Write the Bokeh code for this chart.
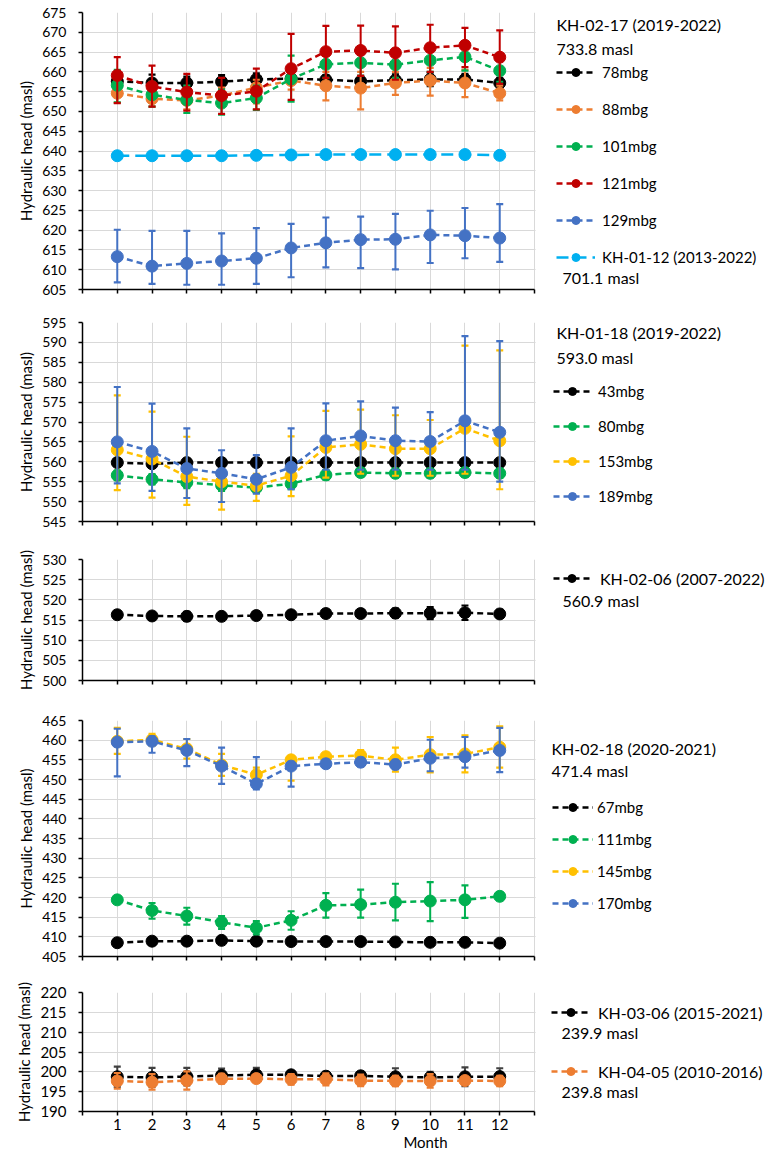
from bokeh.plotting import figure
from bokeh.layouts import column
from bokeh.models import (Range1d, FixedTicker, Legend, LegendItem, Label, ColumnDataSource,
                          BoxAnnotation)
from bokeh.embed import file_html
from bokeh.resources import INLINE

FONT = "Lato"

# ---------------- data ----------------
months = [1, 2, 3, 4, 5, 6, 7, 8, 9, 10, 11, 12]
x_ticks = [0, 1, 2, 3, 4, 5, 6, 7, 8, 9, 10, 11, 12, 13]
x_grid = [1, 2, 3, 4, 5, 6, 7, 8, 9, 10, 11, 12, 13]
month_tick_labels = {0: "", 1: "1", 2: "2", 3: "3", 4: "4", 5: "5", 6: "6",
                     7: "7", 8: "8", 9: "9", 10: "10", 11: "11", 12: "12", 13: ""}
y_axis_title = "Hydraulic head (masl)"
x_axis_title = "Month"

# Panel 1: KH-02-17 (2019-2022) and KH-01-12
p1_title = "KH-02-17 (2019-2022)"
p1_elev = "733.8 masl"
p1_elev2 = "701.1 masl"
p1_yticks = [605, 610, 615, 620, 625, 630, 635, 640, 645, 650, 655, 660, 665, 670, 675]
p1_names = ["78mbg", "88mbg", "101mbg", "121mbg", "129mbg", "KH-01-12 (2013-2022)"]
p1_78 = [657.6, 657.2, 657.2, 657.5, 658.1, 658.3, 658.0, 657.6, 657.9, 658.1, 658.1, 657.2]
p1_78_hi = [659.0, 659.3, 658.8, 659.2, 659.6, 659.5, 659.2, 659.0, 659.4, 659.8, 659.5, 658.5]
p1_78_lo = [656.2, 655.5, 655.6, 655.8, 656.6, 657.1, 656.8, 656.2, 656.4, 656.4, 656.7, 655.9]
p1_88 = [654.6, 653.2, 652.8, 654.0, 656.0, 657.8, 656.5, 655.9, 657.2, 657.8, 657.2, 654.6]
p1_88_hi = [657.0, 655.5, 655.0, 656.0, 658.0, 660.0, 660.0, 660.0, 660.0, 661.0, 660.5, 656.5]
p1_88_lo = [652.2, 651.2, 650.5, 652.0, 652.0, 655.5, 652.8, 650.5, 654.2, 654.0, 653.6, 652.8]
p1_101 = [656.6, 654.2, 652.9, 652.1, 653.4, 658.2, 661.9, 662.3, 661.8, 662.9, 663.8, 660.3]
p1_101_hi = [660.5, 657.5, 656.5, 655.5, 656.5, 664.1, 665.0, 665.5, 665.0, 666.0, 667.0, 663.5]
p1_101_lo = [652.3, 651.2, 649.6, 649.2, 650.4, 652.5, 658.5, 659.0, 658.5, 660.0, 660.3, 657.5]
p1_121 = [659.1, 656.3, 654.9, 654.0, 655.1, 660.8, 665.1, 665.4, 664.8, 666.1, 666.7, 663.7]
p1_121_hi = [663.7, 661.6, 659.5, 658.5, 660.8, 669.6, 671.6, 671.7, 671.5, 671.9, 671.1, 670.5]
p1_121_lo = [652.1, 651.2, 650.2, 649.4, 650.5, 652.9, 658.5, 659.0, 658.0, 660.0, 661.2, 657.0]
p1_129 = [613.3, 610.9, 611.6, 612.2, 612.9, 615.5, 616.8, 617.6, 617.7, 618.8, 618.6, 618.0]
p1_129_hi = [620.1, 619.8, 619.8, 619.2, 620.5, 621.6, 623.2, 623.4, 624.1, 624.9, 625.6, 626.6]
p1_129_lo = [606.8, 606.4, 606.2, 606.2, 606.4, 608.1, 610.6, 610.4, 610.1, 611.7, 612.9, 612.0]
p1_k0112 = [638.8, 638.8, 638.8, 638.8, 638.9, 639.0, 639.1, 639.1, 639.1, 639.1, 639.1, 638.9]

# Panel 2: KH-01-18 (2019-2022)
p2_title = "KH-01-18 (2019-2022)"
p2_elev = "593.0 masl"
p2_yticks = [545, 550, 555, 560, 565, 570, 575, 580, 585, 590, 595]
p2_names = ["43mbg", "80mbg", "153mbg", "189mbg"]
p2_43 = [559.8, 559.5, 559.8, 559.8, 559.8, 559.8, 559.8, 559.8, 559.8, 559.8, 559.8, 559.8]
p2_43_hi = [560.6, 560.4, 560.6, 560.5, 560.6, 560.6, 560.5, 560.5, 560.6, 560.5, 560.6, 560.5]
p2_43_lo = [559.0, 558.6, 559.0, 559.1, 559.0, 559.0, 559.1, 559.1, 559.0, 559.1, 559.0, 559.1]
p2_80 = [556.6, 555.6, 554.8, 554.1, 553.5, 554.5, 556.7, 557.3, 557.1, 557.1, 557.3, 557.1]
p2_80_hi = [557.8, 556.9, 556.2, 555.5, 554.8, 555.9, 557.9, 558.4, 558.2, 558.2, 558.4, 558.2]
p2_80_lo = [555.4, 554.3, 553.4, 552.7, 552.2, 553.1, 555.5, 556.2, 556.0, 556.0, 556.2, 556.0]
p2_153 = [563.0, 560.7, 556.3, 555.0, 554.0, 556.5, 563.6, 564.4, 563.3, 563.3, 568.4, 565.3]
p2_153_hi = [576.7, 572.6, 566.3, 558.0, 557.0, 566.4, 572.8, 573.1, 571.7, 570.5, 589.2, 588.0]
p2_153_lo = [552.9, 551.0, 549.2, 548.0, 550.2, 551.4, 556.0, 557.0, 556.5, 556.5, 557.0, 553.1]
p2_189 = [565.0, 562.6, 558.3, 557.1, 555.6, 558.6, 565.3, 566.5, 565.3, 565.1, 570.3, 567.4]
p2_189_hi = [578.8, 574.6, 568.4, 562.9, 561.7, 568.4, 574.7, 575.2, 573.6, 572.5, 591.6, 590.3]
p2_189_lo = [554.6, 552.7, 550.9, 549.9, 552.0, 553.1, 558.0, 558.0, 558.0, 558.0, 558.0, 555.0]

# Panel 3: KH-02-06 (2007-2022)
p3_name = "KH-02-06 (2007-2022)"
p3_elev = "560.9 masl"
p3_yticks = [500, 505, 510, 515, 520, 525, 530]
p3_k0206 = [516.3, 516.0, 515.9, 515.9, 516.1, 516.3, 516.6, 516.6, 516.7, 516.7, 516.8, 516.5]
p3_k0206_hi = [517.0, 516.8, 517.0, 516.7, 516.9, 517.0, 517.5, 517.5, 517.8, 518.2, 518.6, 517.5]
p3_k0206_lo = [515.6, 515.2, 514.8, 515.1, 515.3, 515.6, 515.7, 515.7, 515.6, 515.2, 515.0, 515.5]

# Panel 4: KH-02-18 (2020-2021)
p4_title = "KH-02-18 (2020-2021)"
p4_elev = "471.4 masl"
p4_yticks = [405, 410, 415, 420, 425, 430, 435, 440, 445, 450, 455, 460, 465]
p4_names = ["67mbg", "111mbg", "145mbg", "170mbg"]
p4_67 = [408.5, 408.9, 408.9, 409.1, 408.9, 408.8, 408.8, 408.8, 408.7, 408.6, 408.6, 408.4]
p4_67_hi = [409.0, 409.4, 409.4, 409.6, 409.4, 409.3, 409.3, 409.3, 409.2, 409.1, 409.1, 408.9]
p4_67_lo = [408.0, 408.4, 408.4, 408.6, 408.4, 408.3, 408.3, 408.3, 408.2, 408.1, 408.1, 407.9]
p4_111 = [419.4, 416.7, 415.3, 413.7, 412.3, 414.2, 418.0, 418.2, 418.8, 419.1, 419.4, 420.3]
p4_111_hi = [420.2, 418.6, 417.4, 415.3, 414.0, 416.5, 421.1, 422.0, 423.5, 423.9, 423.1, 421.3]
p4_111_lo = [418.6, 414.6, 413.1, 412.0, 410.6, 411.8, 414.9, 414.9, 414.2, 414.0, 414.8, 419.3]
p4_145 = [459.7, 460.1, 457.8, 453.7, 451.2, 455.0, 455.8, 456.1, 455.0, 456.3, 456.5, 458.2]
p4_145_hi = [463.1, 461.6, 460.3, 456.5, 453.0, 455.8, 456.8, 457.5, 458.1, 460.8, 461.2, 463.5]
p4_145_lo = [456.5, 458.6, 455.3, 450.9, 449.4, 449.7, 454.8, 454.7, 452.0, 451.8, 451.8, 453.0]
p4_170 = [459.5, 459.7, 457.4, 453.4, 448.9, 453.4, 454.0, 454.4, 453.8, 455.4, 455.8, 457.4]
p4_170_hi = [462.9, 461.0, 460.3, 458.1, 455.7, 454.5, 455.0, 455.5, 455.0, 460.1, 460.8, 463.1]
p4_170_lo = [450.8, 456.8, 453.4, 448.9, 447.5, 448.2, 453.0, 453.3, 452.6, 452.1, 453.0, 451.9]

# Panel 5: KH-03-06 and KH-04-05
p5_names = ["KH-03-06 (2015-2021)", "KH-04-05 (2010-2016)"]
p5_elevs = ["239.9 masl", "239.8 masl"]
p5_yticks = [190, 195, 200, 205, 210, 215, 220]
p5_k0306 = [198.75, 198.6, 198.8, 199.1, 199.25, 199.25, 198.9, 199.0, 198.75, 198.6, 198.75, 198.8]
p5_k0306_hi = [201.3, 201.0, 201.0, 200.8, 201.0, 200.2, 200.0, 200.0, 200.9, 200.0, 201.1, 200.9]
p5_k0306_lo = [196.2, 196.2, 196.6, 197.4, 197.5, 198.3, 197.8, 198.0, 196.6, 197.2, 196.4, 196.7]
p5_k0405 = [197.7, 197.4, 197.8, 198.25, 198.3, 198.1, 198.1, 197.8, 197.7, 197.7, 197.8, 197.7]
p5_k0405_hi = [199.7, 199.4, 200.1, 199.5, 199.1, 199.4, 199.6, 199.3, 199.0, 199.4, 198.6, 199.0]
p5_k0405_lo = [195.75, 195.5, 195.5, 197.0, 197.5, 196.8, 196.6, 196.4, 196.4, 196.0, 197.0, 196.4]

# ---------------- styles / layout ----------------
BLACK = "#000000"
ORANGE = "#ED7D31"
GREEN = "#00B050"
RED = "#C00000"
BLUE = "#4472C4"
SKY = "#00B0F0"
YELLOW = "#FFC000"
GRID = "#D9D9D9"
SHORT = "6 4"
LONG = "12 6"

FIG_W = 768
LEFT = 82          # width of the y-axis area
PLOT_W = 452       # width of the gridded plot area (months 0..13)
X_MAX = 13
X_END = X_MAX * (FIG_W - LEFT) / PLOT_W   # frame extends under the legend column


def make_panel(height, top, bottom, yr, yticks, series, leg_loc, leg_spacing, glyph_w,
               standoff, labels, last=False, leg_font="15px", tick_font="14px"):
    p = figure(width=FIG_W, height=height, x_range=Range1d(0, X_END), y_range=Range1d(*yr),
               output_backend="svg", toolbar_location=None,
               min_border_left=LEFT, min_border_right=0,
               min_border_top=top, min_border_bottom=bottom)
    p.outline_line_color = None
    p.background_fill_color = "white"
    p.border_fill_color = "white"

    xa = p.xaxis[0]
    xa.bounds = (0, X_MAX)
    xa.axis_line_color = BLACK
    xa.axis_line_width = 1.5
    xa.major_tick_in = 0
    xa.major_tick_out = 4
    xa.minor_tick_in = 0
    xa.major_tick_line_color = BLACK
    xa.major_tick_line_width = 1.5
    xa.minor_tick_line_color = BLACK
    xa.minor_tick_line_width = 1.5
    if last:
        xa.ticker = FixedTicker(ticks=x_ticks)
        xa.major_label_overrides = month_tick_labels
        xa.minor_tick_out = 0
        xa.major_label_text_font = FONT
        xa.major_label_text_font_size = "15px"
        xa.major_label_text_color = BLACK
        xa.major_label_standoff = 3
        xa.axis_label = x_axis_title
        xa.axis_label_standoff = 0
        xa.axis_label_text_font = FONT
        xa.axis_label_text_font_size = "15px"
        xa.axis_label_text_font_style = "normal"
        xa.axis_label_text_color = BLACK
    else:
        # tick marks only (no labels) on the upper panels
        xa.ticker = FixedTicker(ticks=[], minor_ticks=x_ticks)
        xa.minor_tick_out = 4
        xa.major_label_standoff = 0

    ya = p.yaxis[0]
    ya.ticker = FixedTicker(ticks=yticks)
    ya.major_tick_in = 0
    ya.major_tick_out = 4
    ya.minor_tick_out = 0
    ya.minor_tick_in = 0
    ya.axis_line_color = BLACK
    ya.axis_line_width = 1.5
    ya.major_tick_line_color = BLACK
    ya.major_tick_line_width = 1.5
    ya.major_label_text_font = FONT
    ya.major_label_text_font_size = tick_font
    ya.major_label_text_color = BLACK
    ya.major_label_standoff = 12
    ya.axis_label = y_axis_title
    ya.axis_label_standoff = 4
    ya.axis_label_text_font = FONT
    ya.axis_label_text_font_size = "15px"
    ya.axis_label_text_font_style = "normal"
    ya.axis_label_text_color = BLACK

    p.xgrid.ticker = FixedTicker(ticks=x_grid)
    p.ygrid.ticker = FixedTicker(ticks=yticks)
    p.xgrid.grid_line_color = GRID
    p.ygrid.grid_line_color = GRID
    p.xgrid.grid_line_width = 1
    p.ygrid.grid_line_width = 1

    # blank out grid lines in the legend column (right of the plot area)
    p.add_layout(BoxAnnotation(left=X_MAX + 0.03, fill_color="white", fill_alpha=1.0,
                               line_alpha=0, level="underlay"))

    items = []
    for s in series:
        c = s["color"]
        ec = s.get("err_color", c)
        src = ColumnDataSource(dict(x=months, y=s["y"]))
        if s.get("hi") is not None:
            esrc = ColumnDataSource(dict(x=months, hi=s["hi"], lo=s["lo"]))
            p.segment(x0="x", y0="lo", x1="x", y1="hi", source=esrc,
                      line_color=ec, line_width=2)
            p.scatter("x", "hi", source=esrc, marker="dash", size=7,
                      line_color=ec, line_width=2.2)
            p.scatter("x", "lo", source=esrc, marker="dash", size=7,
                      line_color=ec, line_width=2.2)
        rl = p.line("x", "y", source=src, line_color=c, line_width=2.5,
                    line_dash=s.get("dash", SHORT))
        rm = p.scatter("x", "y", source=src, size=12, fill_color=c, line_color=c)
        items.append(LegendItem(label=s["name"], renderers=[rl, rm]))

    leg = Legend(items=items, location=leg_loc, orientation="vertical",
                 padding=0, margin=0, spacing=leg_spacing,
                 glyph_width=glyph_w, glyph_height=20, label_height=20,
                 label_standoff=standoff, label_text_font=FONT,
                 label_text_font_size=leg_font, label_text_color=BLACK,
                 border_line_color=None, background_fill_alpha=0)
    p.add_layout(leg, "center")

    for (t, lx, ly, fs) in labels:
        p.add_layout(Label(x=lx, y=ly, x_units="screen", y_units="screen", text=t,
                           text_font=FONT, text_font_size=fs, text_color=BLACK,
                           text_baseline="middle", text_align="left"))
    return p


p1 = make_panel(
    301, 12, 12, (605, 675), p1_yticks,
    [dict(name=p1_names[0], color=BLACK, y=p1_78, hi=p1_78_hi, lo=p1_78_lo),
     dict(name=p1_names[1], color=ORANGE, y=p1_88, hi=p1_88_hi, lo=p1_88_lo),
     dict(name=p1_names[2], color=GREEN, y=p1_101, hi=p1_101_hi, lo=p1_101_lo),
     dict(name=p1_names[3], color=RED, y=p1_121, hi=p1_121_hi, lo=p1_121_lo),
     dict(name=p1_names[4], color=BLUE, y=p1_129, hi=p1_129_hi, lo=p1_129_lo),
     dict(name=p1_names[5], color=SKY, y=p1_k0112, hi=None, lo=None, dash=LONG)],
    (474, 22), 17, 39, 7,
    [(p1_title, 474, 265, "16px"), (p1_elev, 474, 241, "16px"), (p1_elev2, 480, 12, "16px")])

p2 = make_panel(
    232, 21, 12, (545, 595), p2_yticks,
    [dict(name=p2_names[0], color=BLACK, y=p2_43, hi=p2_43_hi, lo=p2_43_lo),
     dict(name=p2_names[1], color=GREEN, y=p2_80, hi=p2_80_hi, lo=p2_80_lo),
     dict(name=p2_names[2], color=YELLOW, y=p2_153, hi=p2_153_hi, lo=p2_153_lo),
     dict(name=p2_names[3], color=BLUE, y=p2_189, hi=p2_189_hi, lo=p2_189_lo)],
    (471, 15), 15, 38, 7,
    [(p2_title, 474, 189, "16px"), (p2_elev, 474, 164, "16px")])

p3 = make_panel(
    159, 26, 12, (500, 530), p3_yticks,
    [dict(name=p3_name, color=BLACK, y=p3_k0206, hi=p3_k0206_hi, lo=p3_k0206_lo)],
    (471, 92), 0, 37, 10,
    [(p3_elev, 480, 80, "16px")], leg_font="16px")

p4 = make_panel(
    276, 28, 12, (405, 465), p4_yticks,
    [dict(name=p4_names[0], color=BLACK, y=p4_67, hi=p4_67_hi, lo=p4_67_lo),
     dict(name=p4_names[1], color=GREEN, y=p4_111, hi=p4_111_hi, lo=p4_111_lo),
     dict(name=p4_names[2], color=YELLOW, y=p4_145, hi=p4_145_hi, lo=p4_145_lo),
     dict(name=p4_names[3], color=BLUE, y=p4_170, hi=p4_170_hi, lo=p4_170_lo)],
    (470, 43), 12, 41, 4,
    [(p4_title, 469, 208, "16px"), (p4_elev, 469, 186, "16px")])

p5 = make_panel(
    186, 24, 43, (190, 220), p5_yticks,
    [dict(name=p5_names[0], color=BLACK, err_color="#404040", y=p5_k0306,
          hi=p5_k0306_hi, lo=p5_k0306_lo),
     dict(name=p5_names[1], color=ORANGE, y=p5_k0405, hi=p5_k0405_hi, lo=p5_k0405_lo)],
    (469, 30), 39, 39, 8,
    [(p5_elevs[0], 479, 79, "16px"), (p5_elevs[1], 479, 20, "16px")],
    last=True, leg_font="16px", tick_font="15px")

layout = column(p1, p2, p3, p4, p5, spacing=0)

with open("out.html", "w") as f:
    f.write(file_html(layout, INLINE))
